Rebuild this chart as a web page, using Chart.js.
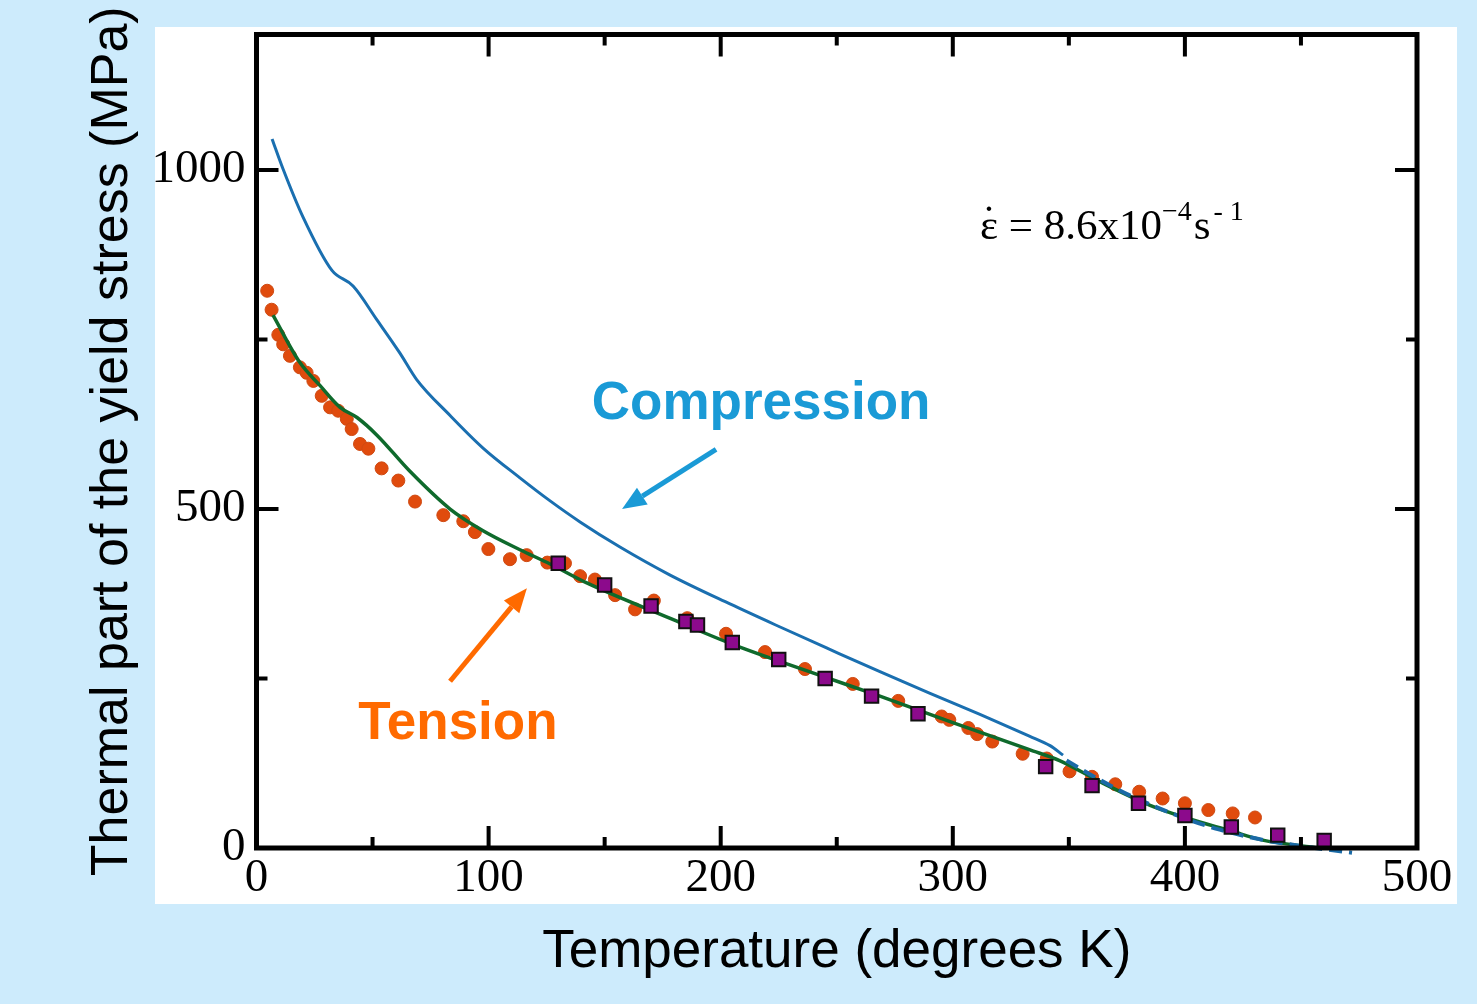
<!DOCTYPE html>
<html>
<head>
<meta charset="utf-8">
<script src="https://cdn.jsdelivr.net/npm/chart.js@4/dist/chart.umd.min.js"></script>
<style>
  body { margin: 0; background: #cdebfc; }
  #wrap { width: 1477px; height: 1004px; }
</style>
</head>
<body>
<div id="wrap"><canvas id="stressChart" width="1477" height="1004"></canvas></div>
<script>
// data (T in K, stress in MPa)
const compressionT = [6.7, 11.4, 20, 32.5, 41.6, 51.9, 61.8, 69, 83.4, 97.6, 113.5, 126.5, 139.4, 156.6, 178, 204, 225.6, 247, 268.6, 290.2, 311.7, 333, 341.9, 347.5];
const compressionS = [1046, 1002, 931, 852, 829, 779, 730, 691, 638, 590, 546, 512, 481, 444, 403, 360, 326, 293, 260, 228, 197, 165, 151, 137];
const compressionTailT = [349, 362, 376, 399, 415, 433.6, 452, 472];
const compressionTailS = [129, 103, 78, 45, 27, 12, 2, -7];

const modelT = [7.1, 18.7, 27.4, 36, 43.3, 51.9, 66, 83.4, 97.6, 113.5, 126.5, 142.3, 178, 204, 240, 268.6, 300, 333, 346, 365, 385, 400, 420, 433, 458];
const modelS = [786, 716, 682, 650, 635, 609, 556, 500, 468, 440, 419, 391, 339, 302, 258, 224, 185, 145, 129, 95, 63, 45, 25, 12, 0];

const tensionT = [4.6, 6.5, 9.4, 11.5, 14.4, 18.7, 21.6, 24.5, 28.1, 31.7, 35.2, 38.9, 41, 44.6, 48.2, 53.9, 61.1, 68.3, 80.5, 89.1, 94.1, 99.9, 109.2, 116.4, 125.3, 132.9, 139.4, 145.8, 154.5, 163.1, 171.2, 185.6, 202.3, 219.1, 236.3, 256.9, 276.5, 295.2, 298.5, 306.7, 310.5, 317, 330.1, 340.5, 350.3, 360, 370, 380.3, 390.4, 400, 410.1, 420.6, 430.2];
const tensionS = [822, 794, 757, 743, 726, 709, 701, 689, 667, 650, 645, 633, 618, 596, 589, 560, 542, 511, 491, 482, 466, 441, 426, 432, 421, 420, 401, 396, 373, 352, 365, 339, 316, 289, 264, 242, 217, 194, 189, 177, 168, 157, 139, 132, 113, 105, 94, 83, 73, 66, 56, 51, 45];

const squareT = [130, 150, 170, 185, 190, 205, 225, 245, 265, 285, 340, 360, 380, 400, 420, 440, 460];
const squareS = [420, 388, 357, 334, 329, 303, 278, 250, 224, 198, 120, 92, 66, 48, 31, 19, 11];

const xTicks = [0, 50, 100, 150, 200, 250, 300, 350, 400, 450, 500];
const xLabels = [0, 100, 200, 300, 400, 500];
const yTicks = [0, 250, 500, 750, 1000];
const yLabels = [0, 500, 1000];

const toPoints = (xs, ys) => xs.map((x, i) => ({ x: x, y: ys[i] }));
const tickFont = { family: '"Liberation Serif", "Times New Roman", serif', size: 47, lineHeight: 1 };

// frame, inward ticks and the annotations
const framePlugin = {
  id: 'frame',
  beforeDraw(chart) {
    const ctx = chart.ctx;
    ctx.save();
    ctx.fillStyle = '#ffffff';
    ctx.fillRect(155, 27, 1302, 877);
    ctx.restore();
  },
  afterDraw(chart) {
    const ctx = chart.ctx;
    const a = chart.chartArea;
    const xs = chart.scales.x, ys = chart.scales.y;
    ctx.save();
    ctx.strokeStyle = '#000';
    ctx.lineWidth = 5;
    ctx.strokeRect(a.left, a.top, a.right - a.left, a.bottom - a.top);
    ctx.lineWidth = 4;
    xTicks.forEach(v => {
      const px = xs.getPixelForValue(v);
      const len = xLabels.includes(v) ? 22 : 11;
      ctx.beginPath();
      ctx.moveTo(px, a.bottom); ctx.lineTo(px, a.bottom - len);
      ctx.moveTo(px, a.top); ctx.lineTo(px, a.top + len);
      ctx.stroke();
    });
    yTicks.forEach(v => {
      const py = ys.getPixelForValue(v);
      const len = yLabels.includes(v) ? 22 : 11;
      ctx.beginPath();
      ctx.moveTo(a.left, py); ctx.lineTo(a.left + len, py);
      ctx.moveTo(a.right, py); ctx.lineTo(a.right - len, py);
      ctx.stroke();
    });

    const P = (x, y) => [xs.getPixelForValue(x), ys.getPixelForValue(y)];
    const arrow = (from, to, color) => {
      const [x1, y1] = P(from[0], from[1]);
      const [x2, y2] = P(to[0], to[1]);
      const ang = Math.atan2(y2 - y1, x2 - x1);
      const hl = 24, hw = 10;
      const bx = x2 - hl * Math.cos(ang), by = y2 - hl * Math.sin(ang);
      ctx.strokeStyle = color; ctx.fillStyle = color; ctx.lineWidth = 5;
      ctx.beginPath(); ctx.moveTo(x1, y1); ctx.lineTo(bx, by); ctx.stroke();
      ctx.beginPath();
      ctx.moveTo(x2, y2);
      ctx.lineTo(bx + hw * Math.sin(ang), by - hw * Math.cos(ang));
      ctx.lineTo(bx - hw * Math.sin(ang), by + hw * Math.cos(ang));
      ctx.closePath(); ctx.fill();
    };
    arrow([198, 588], [157.5, 500], '#1a9ad6');
    arrow([83.4, 246], [116.5, 383], '#ff6a00');

    ctx.textAlign = 'center';
    ctx.textBaseline = 'middle';
    ctx.font = 'bold 53px "Liberation Sans", Arial, sans-serif';
    ctx.fillStyle = '#1a9ad6';
    let p = P(217.4, 654);
    ctx.fillText('Compression', p[0], p[1]);
    ctx.fillStyle = '#ff6a00';
    p = P(86.8, 182);
    ctx.fillText('Tension', p[0], p[1]);

    // strain rate
    ctx.fillStyle = '#000';
    ctx.textAlign = 'left';
    ctx.textBaseline = 'alphabetic';
    p = P(311.7, 899);
    let x = p[0];
    const y = p[1];
    const big = '43px "Liberation Serif", "Times New Roman", serif';
    const small = '28px "Liberation Serif", "Times New Roman", serif';
    ctx.font = big;
    const epsW = ctx.measureText('\u03b5').width;
    ctx.fillText('\u03b5', x, y);
    ctx.textAlign = 'center';
    ctx.fillText('\u02d9', x + epsW / 2, y - 4);
    ctx.textAlign = 'left';
    x += epsW;
    ctx.fillText(' = 8.6x10', x, y);
    x += ctx.measureText(' = 8.6x10').width;
    ctx.font = small;
    ctx.fillText('\u22124', x, y - 19);
    x += ctx.measureText('\u22124').width + 2;
    ctx.font = big;
    ctx.fillText('s', x, y);
    x += ctx.measureText('s').width + 3;
    ctx.font = small;
    ctx.fillText('- 1', x, y - 19);
    ctx.restore();
  }
};

const chart = new Chart(document.getElementById('stressChart'), {
  type: 'scatter',
  data: {
    datasets: [
      {
        label: 'Tension (squares)',
        data: toPoints(squareT, squareS),
        pointStyle: 'rect',
        pointRadius: 9.5,
        backgroundColor: '#8c0a8c',
        borderColor: '#111',
        borderWidth: 2,
        order: 0
      },
      {
        label: 'Compression tail',
        type: 'line',
        data: toPoints(compressionTailT, compressionTailS),
        borderColor: '#1a6aa6',
        borderWidth: 4,
        borderDash: [13, 7],
        pointRadius: 0,
        cubicInterpolationMode: 'monotone',
        clip: 12,
        order: 1
      },
      {
        label: 'Model',
        type: 'line',
        data: toPoints(modelT, modelS),
        borderColor: '#0f6a2c',
        borderWidth: 3.5,
        pointRadius: 0,
        cubicInterpolationMode: 'monotone',
        order: 2
      },
      {
        label: 'Tension',
        data: toPoints(tensionT, tensionS),
        pointStyle: 'circle',
        pointRadius: 6.5,
        backgroundColor: '#e04b0d',
        borderColor: '#cf4a12',
        borderWidth: 1,
        order: 3
      },
      {
        label: 'Compression',
        type: 'line',
        data: toPoints(compressionT, compressionS),
        borderColor: '#1a6fb0',
        borderWidth: 3,
        pointRadius: 0,
        cubicInterpolationMode: 'monotone',
        order: 4
      }
    ]
  },
  options: {
    responsive: false,
    animation: false,
    layout: { padding: { top: 30, right: 60, left: 0, bottom: 0 } },
    plugins: { legend: { display: false }, tooltip: { enabled: false } },
    scales: {
      x: {
        type: 'linear',
        min: 0, max: 500,
        grid: { display: false, drawTicks: false },
        border: { display: false },
        afterFit: s => { s.height = 156; },
        afterBuildTicks: s => { s.ticks = xLabels.map(v => ({ value: v })); },
        ticks: {
          autoSkip: false,
          maxRotation: 0,
          padding: 7,
          color: '#000',
          font: tickFont,
          callback: v => String(v)
        },
        title: {
          display: true,
          text: 'Temperature (degrees K)',
          color: '#000',
          padding: { top: 0, bottom: 25 },
          font: { family: '"Liberation Sans", Arial, sans-serif', size: 53, lineHeight: 1 }
        }
      },
      y: {
        type: 'linear',
        min: 0, max: 1200,
        grid: { display: false, drawTicks: false },
        border: { display: false },
        afterFit: s => { s.width = 256.5; },
        afterBuildTicks: s => { s.ticks = yLabels.map(v => ({ value: v })); },
        ticks: {
          autoSkip: false,
          padding: 11,
          color: '#000',
          font: tickFont,
          callback: v => String(v)
        },
        title: {
          display: true,
          text: 'Thermal part of the yield stress (MPa)',
          color: '#000',
          padding: { top: 87, bottom: 0 },
          font: { family: '"Liberation Sans", Arial, sans-serif', size: 52, lineHeight: 1 }
        }
      }
    }
  },
  plugins: [framePlugin]
});
</script>
</body>
</html>
